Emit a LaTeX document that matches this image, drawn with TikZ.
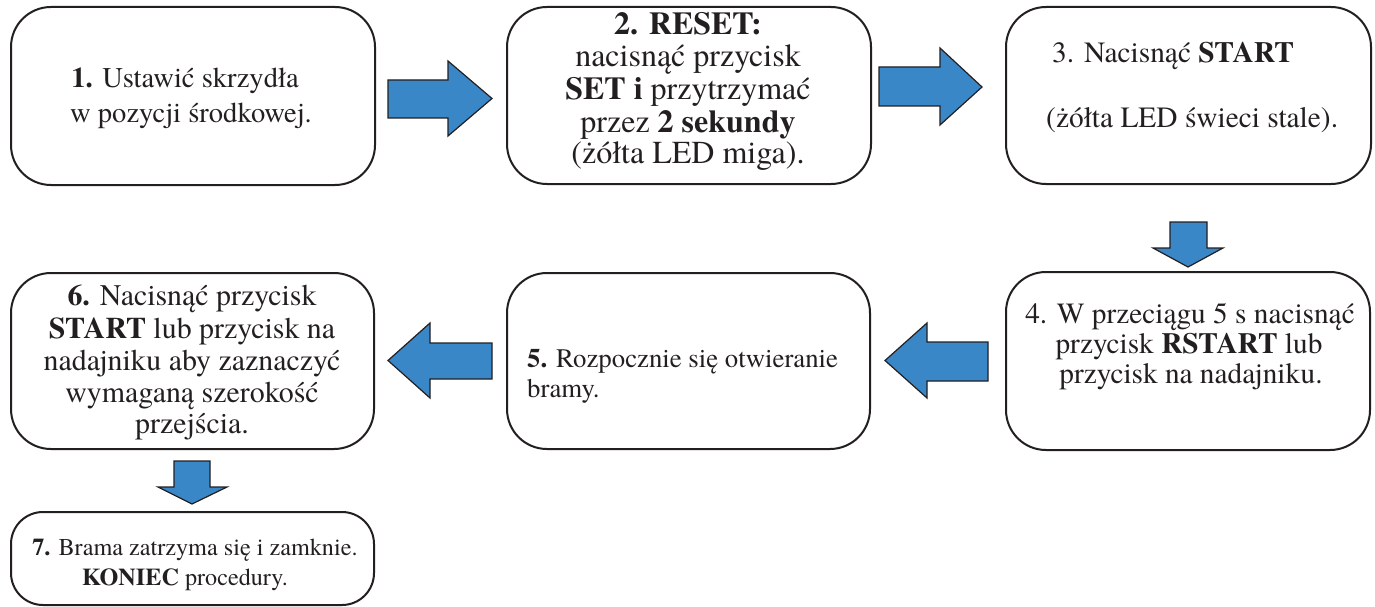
\documentclass[tikz,border=0pt]{standalone}
\usepackage{fontspec}
\setmainfont{texgyretermes}[Extension=.otf, UprightFont=*-regular, BoldFont=*-bold, ItalicFont=*-italic, BoldItalicFont=*-bolditalic]
\definecolor{arrowblue}{RGB}{58,135,200}
\definecolor{ink}{RGB}{35,31,32}
\begin{document}
\begin{tikzpicture}[x=1pt,y=-1pt,
  stepbox/.style={draw=ink, line width=2pt, rounded corners=40pt, inner sep=0pt, fill=white},
  blk/.style={draw=ink, line width=1.2pt, fill=arrowblue, line join=miter},
  txt/.style={text=ink, inner sep=0pt, anchor=base},
  txtl/.style={text=ink, inner sep=0pt, anchor=base west},
  fa/.style={font=\fontsize{28.6}{34}\selectfont},
  fb/.style={font=\fontsize{32}{32}\selectfont},
  fc/.style={font=\fontsize{29.4}{32}\selectfont},
  fd/.style={font=\fontsize{29.3}{30}\selectfont},
  fe/.style={font=\fontsize{26.8}{30}\selectfont},
  ff/.style={font=\fontsize{29.9}{32}\selectfont},
  fg/.style={font=\fontsize{24.2}{30}\selectfont},
]
\fill[white] (0,0) rectangle (1375,607);
\useasboundingbox (0,0) rectangle (1375,607);

% boxes
\node[stepbox, minimum width=364pt, minimum height=178pt] (b1) at (193,96) {};
\node[stepbox, minimum width=364pt, minimum height=177pt] (b2) at (689,95.5) {};
\node[stepbox, minimum width=365pt, minimum height=177pt] (b3) at (1188.5,95.5) {};
\node[stepbox, minimum width=364pt, minimum height=178pt] (b4) at (1188,361) {};
\node[stepbox, minimum width=363pt, minimum height=176pt] (b5) at (688.5,361) {};
\node[stepbox, minimum width=363pt, minimum height=176pt] (b6) at (192.5,361) {};
\node[stepbox, rounded corners=32pt, minimum width=363pt, minimum height=93pt] (b7) at (192.5,558.5) {};

% block arrows
\draw[blk] (388,80) -- (448,80) -- (448,61) -- (492,98.5) -- (448,136) -- (448,118) -- (388,118) -- cycle;
\draw[blk] (879,67) -- (940,67) -- (940,48) -- (982,87) -- (940,125) -- (940,106) -- (879,106) -- cycle;
\draw[blk] (1170,222) -- (1207,222) -- (1207,248) -- (1223,248) -- (1188,267) -- (1153,248) -- (1170,248) -- cycle;
\draw[blk] (988,342) -- (927,342) -- (927,323) -- (885,360.5) -- (927,398) -- (927,381) -- (988,381) -- cycle;
\draw[blk] (492,343) -- (430,343) -- (430,323) -- (388,360.5) -- (430,398) -- (430,379) -- (492,379) -- cycle;
\draw[blk] (174,461) -- (210,461) -- (210,487) -- (227,487) -- (192,504) -- (158,487) -- (174,487) -- cycle;

% texts box 1
\node[txt, fa] (t1a) at (185,88) {\textbf{1.} Ustawić skrzydła};
\node[txt, fa] (t1b) at (191,122) {w pozycji środkowej.};
% box 2
\node[txt, fb] (t2a) at (688,35) {\textbf{2. RESET:}};
\node[txt, fb] (t2b) at (688,67) {nacisnąć przycisk};
\node[txt, fb] (t2c) at (688,100) {\textbf{SET i} przytrzymać};
\node[txt, fb] (t2d) at (688,132) {przez \textbf{2 sekundy}};
\node[txt, fb] (t2e) at (688,163) {(żółta LED miga).};
% box 3
\node[txtl, fc] (t3a) at (1052,63) {3. Nacisnąć \textbf{START}};
\node[txtl, fc] (t3b) at (1046,128) {(żółta LED świeci stale).};
% box 4
\node[txt, fd] (t4a) at (1190,323) {4. W przeciągu 5 s nacisnąć};
\node[txt, fd] (t4b) at (1189,353) {przycisk \textbf{RSTART} lub};
\node[txt, fd] (t4c) at (1191,383) {przycisk na nadajniku.};
% box 5
\node[txtl, fe] (t5a) at (527,367) {\textbf{5.} Rozpocznie się otwieranie};
\node[txtl, fe] (t5b) at (527,397) {bramy.};
% box 6
\node[txt, ff] (t6a) at (192,305) {\textbf{6.} Nacisnąć przycisk};
\node[txt, ff] (t6b) at (192,338) {\textbf{START} lub przycisk na};
\node[txt, ff] (t6c) at (192,370) {nadajniku aby zaznaczyć};
\node[txt, ff] (t6d) at (192,402) {wymaganą szerokość};
\node[txt, ff] (t6e) at (192,433) {przejścia.};
% box 7
\node[txt, fg] (t7a) at (195,555) {\textbf{7.} Brama zatrzyma się i zamknie.};
\node[txt, fg] (t7b) at (185,585) {\textbf{KONIEC} procedury.};
\end{tikzpicture}
\end{document}
